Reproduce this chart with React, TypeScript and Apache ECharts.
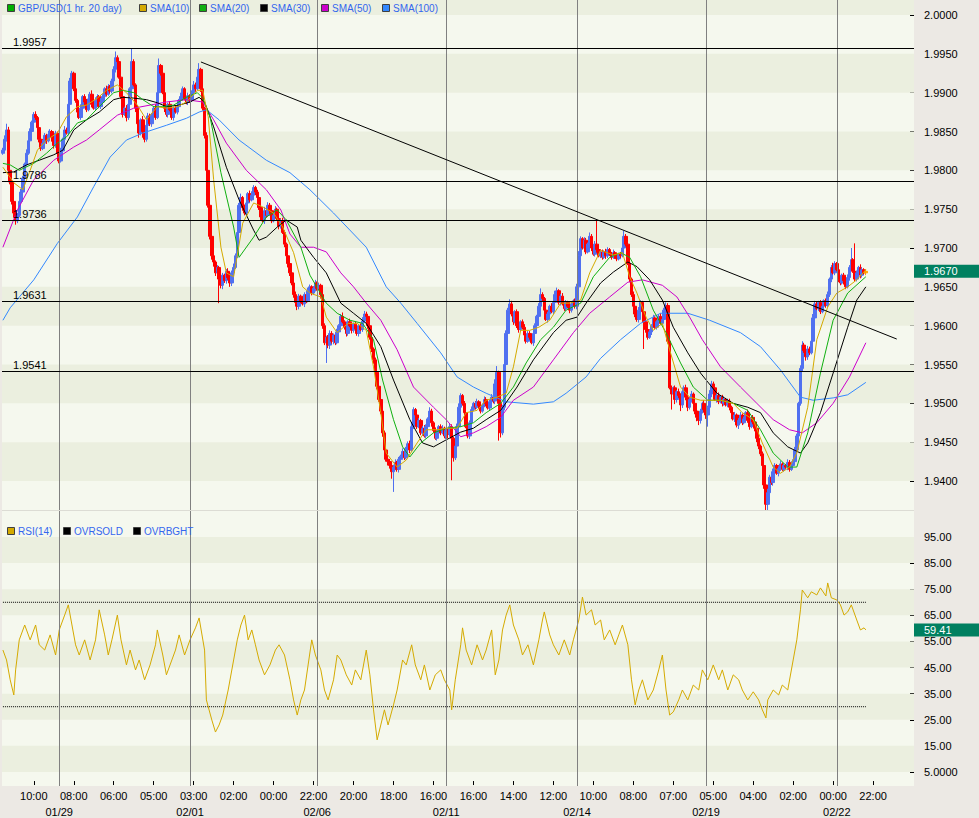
import React, { useEffect, useRef } from 'react';
import * as echarts from 'echarts';

const SLOTS = 502;
const FIRST_OPEN = 822;

// hourly closes, pips above 1.9000
const closesA = [826,840,852,800,785,760,745,735,742,760,772,790,808,822,838,850,862,872,868,855,840,828,835,845,838,846,850,842,832,848,822,812,825,840,852,848,885,915,925,905,890,875,868,880,895,888,878,892,898,885,880,890,895,882,888,895,905,898,908,902,915,930,945,940,920,895,872,880,868,885,905,940,910,880,860,848,865,850,840,858,870,860,872,880,868,900,935,925,900,880,872,885,878,868,880,875,882,890,895,905,892,888,896];
const closesB = [890,900,910,905,920,930,905,880,845,800,755,715,690,682,668,675,660,652,665,658,670,662,655,668,675,690,720,755,765,752,745,758,770,762,768,778,772,765,752,740,735,748,742,755,748,735,742,750,738,728,735,720,705,690,680,668,655,640,630,625,638,632,628,640,632,645,650,642,648,655];
const closesC = [648,652,640,600,578,585,575,590,580,588,578,592,600,612,605,598,590,605,600,594,602,596,590,600,595,606,615,612,600,585,570,556,540,522,505,490,462,440,428,425,420,412,418,424,415,428,432,438,430,442,448,440,470,492,485,470,478,462,468,458,470,480,490,475,465,455,462,470,462,468,458];
const closesD = [465,460,470,455,430,445,470,495,510,500,488,470,458,475,492,500,495,502,497,490,498,505,500,494,502,508,503,525,540,500,462,495,550,590,620,628,615,605,618,600,595,605,598,588,580,590,585,578,590,600,612,625,640,635,620,608,615,625,618,630,640,645,630,638,628,622,630,625,620,628,632,625];
const closesE = [650,690,712,700,710,695,705,715,700,692,705,698,690,695,688,695,690,698,692,688,694,690,686,692,690,700,715,705,680,660,640,625,615,608,620,630,618,605,595,585,592,600,610,598,605,612,603,608,620,626,580,520,512,520,505,515,510,498,515,520,508,495,505,512,500,490,482,478,490,500,492];
const closesF = [485,495,512,525,520,505,510,502,508,500,505,498,503,495,488,480,485,472,478,485,475,480,488,478,470,482,476,468,455,445,435,420,395,370,385,405,398,412,420,410,416,422,415,420,418,424,415,420,425,440,458,500,545,575,568,560,570,565,580,610,628,622,630,618,625,632,626,640,660,675,668,680];
const closesG = [672,660,655,665,658,650,662,675,685,670,660,668,675,665,672,668,670];

// wick lengths in pips (one digit per bar)
const upperWicks = '3584232432 4325342342 3243253243 2342532432 4235234235 2432532432 3483253243 2932432532 4323564232 3243234253 2342353462 3243234232 4323423534 3524324532 3423524323 4232432342 3423243243 2342324323 4323423523 2432342354 3243232432 3243234232 4323463243 2343253243 2342324323 4532342342 3423243234 2632435436 4323423423 3243248324 3243542342 3243234632 4325324932 3243234232 3453232432 4323423243 2342343232 3243234234 2342324325 4323423423 3234234232 4323243232 4532432342 3243234324 5324325432 3423423632 4323243529 324323';
const lowerWicks = '2435346532 3243234232 4323423543 5324323423 3423243234 2342324323 3243234253 4325463843 5342324325 3423423423 2343234234 3453456459 4534354323 3243243234 4352432432 3243243543 4354324323 3243254364 5343243234 3243234232 3434534345 4354994343 4323423432 3423425323 4323453953 4323423432 3243234232 3425634234 3423423432 3243423432 4323423423 3243234232 4323423423 3243232432 3243243543 4368432432 3423243254 6438434534 3456434539 4324324323 4324354324 3423454345 6453432432 3243234323 4354324323 3243234232 4325324323 324323';
const highSpikes = [[62, 950], [71, 957], [86, 944], [108, 938], [272, 548], [276, 560], [327, 736], [342, 722], [467, 700], [469, 706]];
const lowSpikes = [[119, 629], [178, 552], [215, 386], [247, 401], [273, 452], [353, 570], [368, 492], [388, 470], [420, 362], [421, 362]];

// moving averages: [bar, pips]
const sma10Pts = [[0,804],[6,784],[11,775],[15,800],[19,826],[24,839],[30,848],[35,869],[41,882],[46,884],[52,893],[57,903],[63,910],[68,900],[74,884],[79,865],[85,882],[90,880],[96,882],[101,888],[107,903],[110,903],[113,869],[116,788],[120,701],[123,668],[127,663],[132,732],[138,758],[143,753],[149,745],[154,727],[160,694],[165,650],[169,642],[175,637],[178,611],[184,591],[190,603],[195,603],[200,594],[204,547],[208,488],[211,436],[217,418],[222,427],[228,449],[233,466],[239,466],[244,468],[250,468],[255,488],[261,491],[266,504],[272,508],[277,513],[281,547],[285,594],[290,594],[295,598],[301,607],[307,629],[312,629],[318,633],[323,668],[329,697],[336,691],[341,694],[345,663],[349,642],[354,611],[358,594],[363,603],[367,569],[373,521],[378,508],[384,504],[389,504],[395,504],[402,500],[407,488],[413,479],[418,449],[424,418],[428,410],[433,418],[437,436],[443,495],[448,582],[454,624],[459,642],[465,650],[470,659],[475,672]];
const sma20Pts = [[0,809],[4,807],[9,800],[17,809],[24,822],[30,835],[35,843],[41,861],[46,865],[53,882],[61,900],[66,903],[72,900],[77,891],[83,882],[88,882],[94,884],[101,894],[107,900],[110,893],[114,869],[120,797],[127,727],[130,688],[138,714],[145,740],[151,749],[156,736],[164,701],[169,665],[178,629],[184,616],[191,607],[198,603],[204,582],[209,530],[215,479],[220,444],[224,431],[230,449],[237,462],[244,468],[252,470],[259,475],[266,488],[274,500],[281,521],[288,552],[296,582],[303,598],[310,620],[318,629],[325,663],[334,688],[340,694],[345,688],[351,663],[358,620],[365,591],[373,552],[380,521],[388,504],[395,504],[402,500],[410,491],[417,466],[424,436],[432,418],[437,418],[443,462],[450,539],[457,607],[465,642],[475,663]];
const sma30Pts = [[0,797],[6,798],[13,807],[20,813],[28,820],[33,826],[39,852],[46,865],[53,875],[61,891],[66,894],[72,893],[79,891],[85,887],[90,882],[97,884],[103,888],[108,894],[111,888],[116,856],[123,804],[130,762],[138,723],[141,710],[145,714],[151,727],[156,736],[162,727],[164,710],[171,688],[178,668],[186,629],[193,616],[200,603],[208,573],[215,530],[224,479],[231,449],[237,444],[244,453],[252,463],[259,468],[266,479],[274,491],[283,521],[292,556],[303,591],[310,607],[316,611],[321,629],[329,655],[336,669],[344,682],[349,676],[356,659],[363,633],[369,598],[377,565],[384,539],[393,513],[402,500],[410,495],[417,488],[424,462],[432,444],[439,436],[443,449],[450,488],[457,539],[465,598],[470,633],[475,650]];
const sma50Pts = [[0,701],[8,749],[17,788],[28,813],[39,830],[46,839],[53,852],[63,871],[72,880],[81,884],[90,888],[101,891],[110,888],[116,865],[123,835],[134,800],[145,775],[153,749],[158,718],[164,701],[171,701],[178,695],[186,668],[193,650],[200,629],[208,607],[217,569],[226,521],[237,495],[244,479],[252,457],[259,462],[266,470],[274,482],[281,504],[292,521],[303,556],[314,591],[323,616],[334,637],[344,656],[352,659],[363,652],[371,637],[378,611],[385,582],[395,547],[406,521],[415,500],[424,479],[433,466],[440,462],[448,475],[457,500],[466,534],[475,578]];
const sma100Pts = [[0,607],[4,623],[17,659],[30,706],[41,740],[50,779],[59,817],[68,839],[77,848],[90,858],[101,867],[108,875],[112,878],[119,865],[130,839],[145,813],[158,797],[169,775],[182,745],[200,701],[211,650],[219,629],[228,603],[241,565],[250,534],[259,521],[266,513],[277,502],[292,499],[303,502],[310,513],[321,534],[329,558],[340,582],[351,603],[362,616],[377,616],[389,607],[406,591],[417,573],[428,543],[439,508],[446,504],[457,507],[465,511],[475,527]];
const trendPts = [[109, 939.5], [492, 582.8]];

// RSI(14): [bar, value]
const rsiA = [[0,51.7],[2,47.9],[4,40.3],[6,34.5],[7,44.1],[9,55.6],[12,61.3],[15,55.6],[18,61.3],[20,53.7],[23,51.7],[26,57.5],[29,49.8],[31,59.4],[34,65.1],[36,69],[38,61.3],[40,53.7],[42,49.8],[45,55.6],[48,47.9],[51,55.6],[53,67.1],[56,57.5],[58,49.8],[60,55.6],[63,65.1],[65,55.6],[68,46],[70,51.7],[73,44.1],[75,47.9],[78,40.3],[81,46],[84,53.7],[85,59.4],[88,49.8],[90,42.2],[93,47.9],[95,51.7],[97,57.5],[100,49.8],[103,55.6],[106,60.2],[108,64]];
const rsiB = [[111,51.7],[112,32.6],[115,24.9],[117,20.3],[119,23],[121,26.8],[124,36.4],[127,47.9],[129,55.6],[131,61.3],[133,65.1],[135,55.6],[137,59.4],[139,53.7],[141,47.9],[144,42.2],[147,46],[150,51.7],[152,53.7],[155,49.8],[158,40.3],[160,32.6],[162,26.8],[164,32.6],[166,36.4],[168,46],[170,55.6],[172,49.8],[175,44.1],[177,36.4],[179,32.6],[182,40.3],[184,49.8],[186,47.9],[189,42.2],[192,38.3],[194,44.1],[197,40.3],[200,51.7],[202,42.2],[204,28.8],[206,17.3],[208,23],[210,28.8],[212,23],[215,30.7],[217,36.4],[220,47.9],[222,46],[225,53.7],[227,46],[230,40.3],[232,46],[235,36.4],[238,42.2],[241,44.1]];
const rsiC = [[243,40.3],[246,36.4],[247,28.8],[249,40.3],[252,53.7],[253,60.2],[255,51.7],[258,46],[261,53.7],[264,47.9],[266,51.7],[269,59.4],[271,42.2],[273,47.9],[275,59.4],[277,65.1],[279,69],[281,61.3],[284,55.6],[286,49.8],[289,53.7],[292,46],[295,55.6],[297,63.2],[298,66.3],[301,57.5],[303,53.7],[306,49.8],[309,55.6],[312,49.8],[314,55.6],[317,63.2],[319,72],[321,65.1],[324,67.1],[326,61.3],[329,63.2],[331,55.6],[334,59.4],[337,53.7],[339,57.5],[341,61.3],[344,53.7],[346,40.3],[348,30.7],[350,36.4],[352,40.3],[355,32.6],[358,36.4],[361,44.1],[363,49.8],[365,36.4],[367,26.8],[369,28],[372,32.6]];
const rsiD = [[374,36.4],[377,32.6],[380,38.3],[383,36.4],[385,44.1],[388,40.3],[391,46],[394,40.3],[396,44.1],[399,36.4],[402,42.2],[405,40.3],[407,36.4],[410,32.6],[413,35.7],[416,32.6],[418,28.8],[420,25.7],[421,32.6],[424,36.4],[427,34.5],[429,38.3],[432,36.4],[435,47.9],[437,55.6],[439,67.1],[440,74.7],[443,71.7],[445,74],[448,72.8],[450,75.5],[453,72.4],[454,77.4],[456,71.7],[459,70.9],[461,69],[463,65.1],[465,66.3],[467,69],[470,63.2],[472,59.4],[474,60.2],[475,59.41]];
const overbought = [[0, 70], [475, 70]];
const oversold = [[0, 30], [475, 30]];

const supportLevels = [1.9957, 1.9786, 1.9736, 1.9631, 1.9541];
const lastPrice = 1.967;
const lastRsi = 59.41;

const priceTicks = [1.94, 1.945, 1.95, 1.955, 1.96, 1.965, 1.97, 1.975, 1.98, 1.985, 1.99, 1.995, 2.0];
const rsiTicks = [5, 15, 25, 35, 45, 55, 65, 75, 85, 95];
const PRICE_MIN = 1.93627;
const PRICE_MAX = 2.00193;
const RSI_MIN = -0.37;
const RSI_MAX = 105.34;

const timeTickBars = [17, 39, 61, 83, 105, 127, 149, 171, 193, 215, 237, 259, 281, 303, 325, 347, 369, 391, 413, 435, 457, 479];
const timeTickLabels = ['10:00', '08:00', '06:00', '05:00', '03:00', '02:00', '00:00', '22:00', '20:00', '18:00', '16:00', '16:00', '14:00', '12:00', '10:00', '08:00', '07:00', '05:00', '04:00', '02:00', '00:00', '22:00'];
const dayBars = [31, 103, 173, 244, 316, 387, 459];
const dayLabels = ['01/29', '02/01', '02/06', '02/11', '02/14', '02/19', '02/22'];

const priceBandsDark = [[1.94, 1.945], [1.95, 1.955], [1.96, 1.965], [1.97, 1.975], [1.98, 1.985], [1.99, 1.995], [2.0, PRICE_MAX]];
const rsiBandsDark = [[5, 15], [25, 35], [45, 55], [65, 75], [85, 95]];

const UP = '#5070f0';
const DOWN = '#ff0000';
const FONT = "'Liberation Sans', Arial, sans-serif";
const BAND_DARK = '#ebefdf';
const BAND_LIGHT = '#f5f8ee';
const MARKER = '#008060';

const toPrice = (p: number) => +(1.9 + p / 10000).toFixed(5);
const digits = (s: string) => s.replace(/\s/g, '').split('').map(Number);

function sparse(points: number[][], conv: (v: number) => number) {
  const arr: (number | null)[] = new Array(SLOTS).fill(null);
  points.forEach(([i, v]) => { arr[i] = conv(v); });
  return arr;
}

function buildOption() {
  const closes = [...closesA, ...closesB, ...closesC, ...closesD, ...closesE, ...closesF, ...closesG];
  const up = digits(upperWicks);
  const lo = digits(lowerWicks);
  const hiMap = new Map(highSpikes.map(([i, v]) => [i, v]));
  const loMap = new Map(lowSpikes.map(([i, v]) => [i, v]));
  const candles: any[] = closes.map((c, i) => {
    const o = i === 0 ? FIRST_OPEN : closes[i - 1];
    let h = Math.max(o, c) + (up[i] || 0);
    let l = Math.min(o, c) - (lo[i] || 0);
    if (hiMap.has(i)) h = Math.max(h, hiMap.get(i) as number);
    if (loMap.has(i)) l = Math.min(l, loMap.get(i) as number);
    const value = [toPrice(o), toPrice(c), toPrice(l), toPrice(h)];
    if (i === closes.length - 1) {
      return { value, itemStyle: { color: '#ffa500', borderColor: '#ffa500', color0: '#ffa500', borderColor0: '#ffa500' } };
    }
    return value;
  });

  const categories = Array.from({ length: SLOTS }, (_, i) => String(i));
  const timeMap = new Map(timeTickBars.map((b, k) => [b, timeTickLabels[k]]));
  const dayMap = new Map(dayBars.map((b, k) => [b, dayLabels[k]]));
  const nulls = new Array(SLOTS).fill(null);
  const id = (v: number) => v;

  const smaLine = (name: string, pts: number[][], color: string) => ({
    name, type: 'line', xAxisIndex: 0, yAxisIndex: 0, z: 4, silent: true,
    data: sparse(pts, toPrice), connectNulls: true, showSymbol: false, symbol: 'none',
    lineStyle: { color, width: 1 },
  });

  const dayLines = {
    silent: true, symbol: ['none', 'none'], label: { show: false },
    lineStyle: { color: '#808080', width: 1, type: 'solid' },
    data: dayBars.map((b) => ({ xAxis: b })),
  };

  const legendTop = [
    { label: 'GBP/USD(1 hr. 20 day)', color: '#00b000', x: 7 },
    { label: 'SMA(10)', color: '#d4aa00', x: 139 },
    { label: 'SMA(20)', color: '#10b010', x: 199 },
    { label: 'SMA(30)', color: '#000000', x: 260 },
    { label: 'SMA(50)', color: '#cc00cc', x: 321 },
    { label: 'SMA(100)', color: '#3388ff', x: 382 },
  ];
  const legendRsi = [
    { label: 'RSI(14)', color: '#d4aa00', x: 7 },
    { label: 'OVRSOLD', color: '#000000', x: 63 },
    { label: 'OVRBGHT', color: '#000000', x: 133 },
  ];
  const legendEls = (items: any[], y: number) => items.flatMap((it) => [
    { type: 'rect', z: 100, shape: { x: it.x + 0.5, y: y - 3.5, width: 7, height: 7 }, style: { fill: it.color, stroke: '#404040', lineWidth: 1 } },
    { type: 'text', z: 100, style: { text: it.label, x: it.x + 11, y: y + 0.5, fill: '#3366ee', font: `10px ${FONT}`, textVerticalAlign: 'middle' } },
  ]);

  const markerLabel = (text: string, right: number) => ({
    show: true, position: 'end', formatter: text, color: '#fff', backgroundColor: MARKER,
    padding: [1, right, 1, 10], distance: 0, fontSize: 11, fontFamily: FONT,
  });

  return {
    animation: false,
    backgroundColor: '#ece9e4',
    textStyle: { fontFamily: FONT },
    grid: [
      { left: 2, right: 65, top: 0, height: 510, show: true, backgroundColor: BAND_LIGHT, borderWidth: 0 },
      { left: 2, right: 65, top: 510, height: 276, show: true, backgroundColor: BAND_LIGHT, borderWidth: 0 },
    ],
    xAxis: [
      { type: 'category', gridIndex: 0, data: categories, axisLine: { show: false }, axisTick: { show: false }, axisLabel: { show: false }, splitLine: { show: false } },
      {
        type: 'category', gridIndex: 1, data: categories, axisLine: { show: false }, splitLine: { show: false },
        axisTick: { show: true, inside: true, length: 4, alignWithLabel: true, interval: (i: number) => timeMap.has(i), lineStyle: { color: '#000' } },
        axisLabel: { interval: (i: number) => timeMap.has(i), formatter: (_v: string, i: number) => timeMap.get(i) || '', color: '#000', fontSize: 11, margin: 4 },
      },
      {
        type: 'category', gridIndex: 1, data: categories, position: 'bottom', axisLine: { show: false }, axisTick: { show: false }, splitLine: { show: false },
        axisLabel: { interval: (i: number) => dayMap.has(i), formatter: (_v: string, i: number) => dayMap.get(i) || '', color: '#000', fontSize: 11, margin: 20 },
      },
    ],
    yAxis: [
      {
        type: 'value', gridIndex: 0, position: 'right', min: PRICE_MIN, max: PRICE_MAX,
        axisLine: { show: false }, splitLine: { show: false },
        axisTick: { show: true, inside: true, length: 4, customValues: priceTicks, lineStyle: { color: '#000' } },
        axisLabel: { customValues: priceTicks, formatter: (v: number) => v.toFixed(4), color: '#000', fontSize: 11, margin: 10 },
      },
      {
        type: 'value', gridIndex: 1, position: 'right', min: RSI_MIN, max: RSI_MAX,
        axisLine: { show: false }, splitLine: { show: false },
        axisTick: { show: true, inside: true, length: 4, customValues: rsiTicks, lineStyle: { color: '#000' } },
        axisLabel: { customValues: rsiTicks, formatter: (v: number) => (v === 5 ? '5.0000' : v.toFixed(2)), color: '#000', fontSize: 11, margin: 10 },
      },
    ],
    series: [
      {
        name: 'priceBands', type: 'line', xAxisIndex: 0, yAxisIndex: 0, z: 1, silent: true, data: nulls, symbol: 'none',
        markArea: { silent: true, itemStyle: { color: BAND_DARK }, data: priceBandsDark.map(([a, b]) => [{ yAxis: a }, { yAxis: b }]) },
        markLine: dayLines,
      },
      {
        name: 'rsiBands', type: 'line', xAxisIndex: 1, yAxisIndex: 1, z: 1, silent: true, data: nulls, symbol: 'none',
        markArea: { silent: true, itemStyle: { color: BAND_DARK }, data: rsiBandsDark.map(([a, b]) => [{ yAxis: a }, { yAxis: b }]) },
        markLine: dayLines,
      },
      {
        name: 'GBP/USD', type: 'candlestick', xAxisIndex: 0, yAxisIndex: 0, z: 3, silent: true, barWidth: 3,
        itemStyle: { color: UP, color0: DOWN, borderColor: UP, borderColor0: DOWN, borderWidth: 1 },
        data: candles,
        markLine: {
          silent: true, symbol: ['none', 'none'], precision: 4,
          data: [
            ...supportLevels.map((v) => ({
              yAxis: v,
              lineStyle: { color: '#000', width: 1, type: 'solid' },
              label: { show: true, position: 'insideStartTop', formatter: v.toFixed(4), color: '#000', fontSize: 11, distance: [11, 1] },
            })),
            {
              yAxis: lastPrice,
              lineStyle: { color: 'rgba(0,0,0,0)', width: 1 },
              label: markerLabel(lastPrice.toFixed(4), 22),
            },
          ],
        },
      },
      smaLine('SMA(100)', sma100Pts, '#3388ff'),
      smaLine('SMA(50)', sma50Pts, '#cc00cc'),
      smaLine('SMA(30)', sma30Pts, '#000000'),
      smaLine('SMA(20)', sma20Pts, '#10b010'),
      smaLine('SMA(10)', sma10Pts, '#d4aa00'),
      {
        name: 'trend', type: 'line', xAxisIndex: 0, yAxisIndex: 0, z: 5, silent: true,
        data: sparse(trendPts, toPrice), connectNulls: true, showSymbol: false, symbol: 'none',
        lineStyle: { color: '#000', width: 1 },
      },
      {
        name: 'OVRBGHT', type: 'line', xAxisIndex: 1, yAxisIndex: 1, z: 3, silent: true,
        data: sparse(overbought, id), connectNulls: true, showSymbol: false, symbol: 'none',
        lineStyle: { color: '#000', width: 1, type: 'dotted' },
      },
      {
        name: 'OVRSOLD', type: 'line', xAxisIndex: 1, yAxisIndex: 1, z: 3, silent: true,
        data: sparse(oversold, id), connectNulls: true, showSymbol: false, symbol: 'none',
        lineStyle: { color: '#000', width: 1, type: 'dotted' },
      },
      {
        name: 'RSI(14)', type: 'line', xAxisIndex: 1, yAxisIndex: 1, z: 4, silent: true,
        data: sparse([...rsiA, ...rsiB, ...rsiC, ...rsiD], id), connectNulls: true, showSymbol: false, symbol: 'none',
        lineStyle: { color: '#d4aa00', width: 1 },
        markLine: {
          silent: true, symbol: ['none', 'none'], precision: 2,
          data: [{
            yAxis: lastRsi,
            lineStyle: { color: 'rgba(0,0,0,0)', width: 1 },
            label: markerLabel(lastRsi.toFixed(2), 28),
          }],
        },
      },
    ],
    graphic: [
      { type: 'line', z: 50, shape: { x1: 2, y1: 510.5, x2: 914, y2: 510.5 }, style: { stroke: '#dcdcd4', lineWidth: 1 } },
      ...legendEls(legendTop, 8),
      ...legendEls(legendRsi, 531),
    ],
  };
}

export default function App() {
  const ref = useRef<HTMLDivElement>(null);
  useEffect(() => {
    document.body.style.margin = '0';
    const chart = echarts.init(ref.current as HTMLDivElement, undefined, { renderer: 'svg' });
    chart.setOption(buildOption() as any);
    return () => chart.dispose();
  }, []);
  return <div ref={ref} style={{ width: 979, height: 818 }} />;
}
